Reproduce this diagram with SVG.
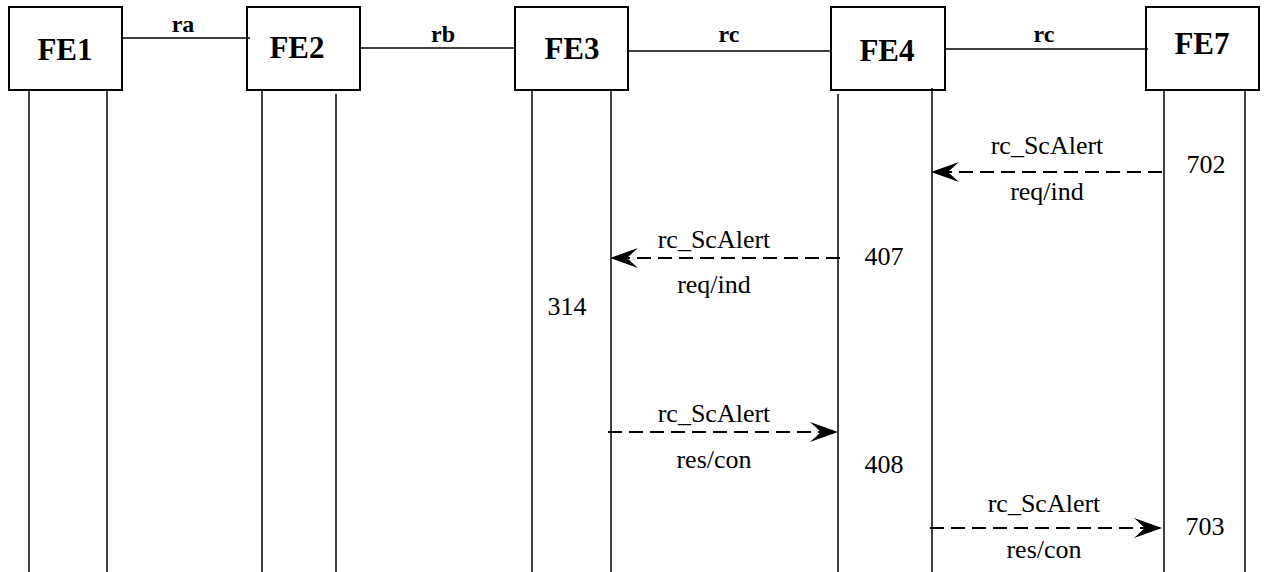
<svg xmlns="http://www.w3.org/2000/svg" width="1265" height="572" viewBox="0 0 1265 572">
<style>
.box{fill:#fff;stroke:#000;stroke-width:2}
.hdr{font-family:'Liberation Serif','DejaVu Serif','Noto Serif',serif;font-weight:bold;font-size:31px;text-anchor:middle;fill:#000}
.ifl{font-family:'Liberation Serif','DejaVu Serif','Noto Serif',serif;font-weight:bold;font-size:24px;text-anchor:middle;fill:#000}
.lbl{font-family:'Liberation Serif','DejaVu Serif','Noto Serif',serif;font-size:26px;text-anchor:middle;fill:#000}
.life{stroke:#000;stroke-width:1.5;fill:none}
.link{stroke:#000;stroke-width:1.6;fill:none}
.msg{stroke:#000;stroke-width:2;fill:none;stroke-dasharray:14 7}
.head{fill:#000;stroke:none}
</style>
<rect width="1265" height="572" fill="#fff"/>
<g id="FE1">
<rect class="box" x="9" y="7" width="113" height="83"/>
<text class="hdr" x="65" y="60">FE1</text>
<line class="life" x1="29" y1="90" x2="29" y2="572"/>
<line class="life" x1="107" y1="90" x2="107" y2="572"/>
</g>
<g id="FE2">
<rect class="box" x="247" y="7" width="113" height="83"/>
<text class="hdr" x="297" y="58">FE2</text>
<line class="life" x1="262" y1="90" x2="262" y2="572"/>
<line class="life" x1="336" y1="94" x2="336" y2="572"/>
</g>
<g id="FE3">
<rect class="box" x="515" y="7" width="113" height="83"/>
<text class="hdr" x="572" y="59">FE3</text>
<line class="life" x1="532" y1="90" x2="532" y2="572"/>
<line class="life" x1="611" y1="90" x2="611" y2="572"/>
</g>
<g id="FE4">
<rect class="box" x="831" y="7" width="114" height="83"/>
<text class="hdr" x="887" y="61">FE4</text>
<line class="life" x1="838" y1="94" x2="838" y2="572"/>
<line class="life" x1="932" y1="88" x2="932" y2="572"/>
</g>
<g id="FE7">
<rect class="box" x="1146" y="7" width="113" height="83"/>
<text class="hdr" x="1202" y="54">FE7</text>
<line class="life" x1="1164" y1="90" x2="1164" y2="572"/>
<line class="life" x1="1245" y1="90" x2="1245" y2="572"/>
</g>
<g id="connectors">
<line class="link" x1="122" y1="38" x2="250" y2="38"/>
<text class="ifl" x="183" y="32">ra</text>
<line class="link" x1="360" y1="48" x2="515" y2="48"/>
<text class="ifl" x="443" y="42">rb</text>
<line class="link" x1="628" y1="51" x2="831" y2="51"/>
<text class="ifl" x="729" y="42">rc</text>
<line class="link" x1="945" y1="49" x2="1148" y2="49"/>
<text class="ifl" x="1044" y="42">rc</text>

<line class="msg" x1="1162" y1="172" x2="945" y2="172"/>
<path class="head" d="M931,172 L959,162 L948,172 L959,182 Z"/>
<text class="lbl" x="1047" y="154">rc_ScAlert</text>
<text class="lbl" x="1047" y="200">req/ind</text>

<line class="msg" x1="840" y1="258" x2="624" y2="258"/>
<path class="head" d="M610,258 L638,248 L627,258 L638,268 Z"/>
<text class="lbl" x="714" y="248">rc_ScAlert</text>
<text class="lbl" x="714" y="293">req/ind</text>

<line class="msg" x1="608" y1="432" x2="824" y2="432"/>
<path class="head" d="M838,432 L810,422 L821,432 L810,442 Z"/>
<text class="lbl" x="714" y="422">rc_ScAlert</text>
<text class="lbl" x="714" y="468">res/con</text>

<line class="msg" x1="930" y1="528" x2="1148" y2="528"/>
<path class="head" d="M1162,528 L1134,518 L1145,528 L1134,538 Z"/>
<text class="lbl" x="1044" y="512">rc_ScAlert</text>
<text class="lbl" x="1044" y="558">res/con</text>
</g>
<g id="numbers">
<text class="lbl" x="1206" y="173">702</text>
<text class="lbl" x="884" y="265">407</text>
<text class="lbl" x="567" y="315">314</text>
<text class="lbl" x="884" y="473">408</text>
<text class="lbl" x="1205" y="535">703</text>
</g>
</svg>
